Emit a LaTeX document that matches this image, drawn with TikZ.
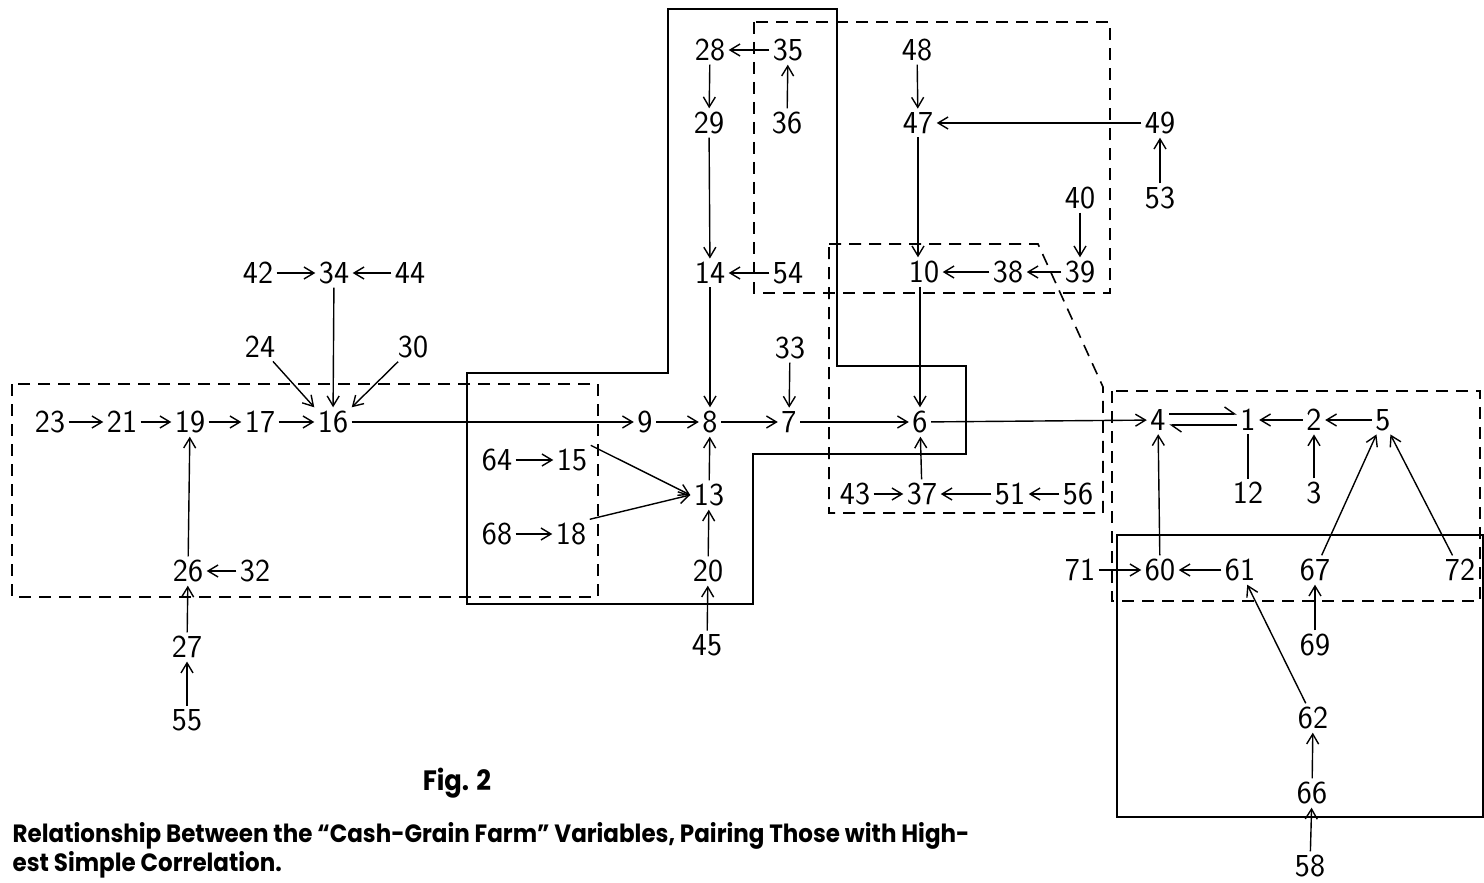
\documentclass[tikz,border=0pt]{standalone}
\usepackage{fontspec}
\newfontfamily\capfont{Poppins}[Ligatures=TeX, FakeStretch=0.92]
\usetikzlibrary{arrows.meta}

\tikzset{
    var/.style={inner sep=1.5pt, font=\fontsize{16}{16}\selectfont\sffamily},
    grp/.style={line width=0.8pt, dash pattern=on 6pt off 4pt},
    blk/.style={line width=0.9pt},
    harp/.style={-{Straight Barb[harpoon, length=5pt, width=7pt]}},
}

\begin{document}
\begin{tikzpicture}[x=0.5pt, y=-0.5pt, line width=0.7pt,
    >={Straight Barb[length=5pt, width=6pt]}]
    \useasboundingbox (0,0) rectangle (1484,883);
    % Groups (dashed) and blocks (solid)
    \draw[grp] (12,384) rectangle (598,597);
    \draw[grp] (754,22) rectangle (1110,293);
    \draw[grp] (829,244) -- (1038,244) -- (1103,387) -- (1103,513) -- (829,513) -- cycle;
    \draw[grp] (1112,391) rectangle (1480,601);
    \draw[blk] (467,373) -- (668,373) -- (668,9) -- (837,9) -- (837,366)
        -- (966,366) -- (966,454) -- (753,454) -- (753,604) -- (467,604) -- cycle;
    \draw[blk] (1117,535) rectangle (1483,817);

    % Left chain
    \node[var] (n23) at (50,422) {23};
    \node[var] (n21) at (122,422) {21};
    \node[var] (n19) at (190,422) {19};
    \node[var] (n17) at (260,422) {17};
    \node[var] (n16) at (333,422) {16};
    \node[var] (n42) at (258,273) {42};
    \node[var] (n34) at (334,273) {34};
    \node[var] (n44) at (410,273) {44};
    \node[var] (n24) at (260,347) {24};
    \node[var] (n30) at (413,347) {30};
    \node[var] (n26) at (188,571) {26};
    \node[var] (n32) at (255,571) {32};
    \node[var] (n27) at (187,647) {27};
    \node[var] (n55) at (187,720) {55};

    % Middle
    \node[var] (n9) at (645,422) {9};
    \node[var] (n8) at (710,422) {8};
    \node[var] (n7) at (789,422) {7};
    \node[var] (n33) at (790,348) {33};
    \node[var] (n6) at (920,422) {6};
    \node[var] (n64) at (497,460) {64};
    \node[var] (n15) at (572,460) {15};
    \node[var] (n68) at (497,534) {68};
    \node[var] (n18) at (571,534) {18};
    \node[var] (n13) at (709,495) {13};
    \node[var] (n20) at (708,571) {20};
    \node[var] (n45) at (707,645) {45};
    \node[var] (n28) at (710,50) {28};
    \node[var] (n35) at (788,50) {35};
    \node[var] (n29) at (709,123) {29};
    \node[var] (n36) at (787,123) {36};
    \node[var] (n14) at (710,273) {14};
    \node[var] (n54) at (788,273) {54};

    % Upper right
    \node[var] (n48) at (917,50) {48};
    \node[var] (n47) at (918,123) {47};
    \node[var] (n49) at (1160,123) {49};
    \node[var] (n53) at (1160,198) {53};
    \node[var] (n40) at (1080,198) {40};
    \node[var] (n39) at (1080,272) {39};
    \node[var] (n38) at (1008,272) {38};
    \node[var] (n10) at (924,272) {10};
    \node[var] (n43) at (855,494) {43};
    \node[var] (n37) at (922,494) {37};
    \node[var] (n51) at (1010,494) {51};
    \node[var] (n56) at (1078,494) {56};

    % Right
    \node[var] (n4) at (1158,420) {4};
    \node[var] (n1) at (1248,420) {1};
    \node[var] (n2) at (1314,420) {2};
    \node[var] (n5) at (1383,420) {5};
    \node[var] (n12) at (1248,493) {12};
    \node[var] (n3) at (1314,493) {3};
    \node[var] (n71) at (1080,570) {71};
    \node[var] (n60) at (1160,570) {60};
    \node[var] (n61) at (1240,570) {61};
    \node[var] (n67) at (1315,570) {67};
    \node[var] (n72) at (1460,570) {72};
    \node[var] (n69) at (1315,645) {69};
    \node[var] (n62) at (1313,718) {62};
    \node[var] (n66) at (1312,793) {66};
    \node[var] (n58) at (1310,866) {58};

    % Links
    \draw[->] (n23) -- (n21);  \draw[->] (n21) -- (n19);
    \draw[->] (n19) -- (n17);  \draw[->] (n17) -- (n16);
    \draw[->] (n42) -- (n34);  \draw[->] (n44) -- (n34);
    \draw[->] (n34) -- (n16);  \draw[->] (n24) -- (n16.north west);
    \draw[->] (n30) -- (n16.north east);
    \draw[->] (n16) -- (n9);
    \draw[->] (n26) -- (n19);  \draw[->] (n32) -- (n26);
    \draw[->] (n27) -- (n26);  \draw[->] (n55) -- (n27);

    \draw[->] (n9) -- (n8);  \draw[->] (n8) -- (n7);
    \draw[->] (n7) -- (n6);  \draw[->] (n6) -- (n4);
    \draw[->] (n33) -- (n7);  \draw[->] (n14) -- (n8);
    \draw[->] (n13) -- (n8);  \draw[->] (n20) -- (n13);
    \draw[->] (n45) -- (n20);
    \draw[->] (n64) -- (n15);  \draw[->] (n68) -- (n18);
    \draw[->] (n15.north east) -- (n13.west);
    \draw[->] (n18.north east) -- (n13.west);
    \draw[->] (n35) -- (n28);  \draw[->] (n28) -- (n29);
    \draw[->] (n29) -- (n14);  \draw[->] (n36) -- (n35);
    \draw[->] (n54) -- (n14);

    \draw[->] (n48) -- (n47);  \draw[->] (n49) -- (n47);
    \draw[->] (n53) -- (n49);  \draw[->] (n47) -- (n10.north -| n47);
    \draw[->] (n40) -- (n39);  \draw[->] (n39) -- (n38);
    \draw[->] (n38) -- (n10);  \draw[->] (n10.south -| n6) -- (n6);
    \draw[->] (n37) -- (n6);  \draw[->] (n43) -- (n37);
    \draw[->] (n51) -- (n37);  \draw[->] (n56) -- (n51);

    \draw[harp] ([yshift=3pt]n4.east) -- ([yshift=3pt]n1.west);
    \draw[harp] ([yshift=-2.5pt]n1.west) -- ([yshift=-2.5pt]n4.east);
    \draw[->] (n2) -- (n1);  \draw[->] (n5) -- (n2);
    \draw[->] (n3) -- (n2);  \draw (n1) -- (n12);
    \draw[->] (n60) -- (n4);  \draw[->] (n71) -- (n60);
    \draw[->] (n61) -- (n60);
    \draw[->] (n67) -- (n5);  \draw[->] (n72) -- (n5);
    \draw[->] (n62) -- (n61);  \draw[->] (n69) -- (n67);
    \draw[->] (n66) -- (n62);  \draw[->] (n58) -- (n66);

    % Caption
    \node[font=\capfont\bfseries\fontsize{14}{14}\selectfont] (fig) at (457,783) {Fig. 2};
    \node[font=\capfont\bfseries\fontsize{12.5}{12}\selectfont, anchor=north west,
        inner sep=0pt, align=left] (cap) at (12,822)
        {Relationship Between the ``Cash-Grain Farm'' Variables, Pairing Those with High-\\
         est Simple Correlation.};
\end{tikzpicture}
\end{document}
